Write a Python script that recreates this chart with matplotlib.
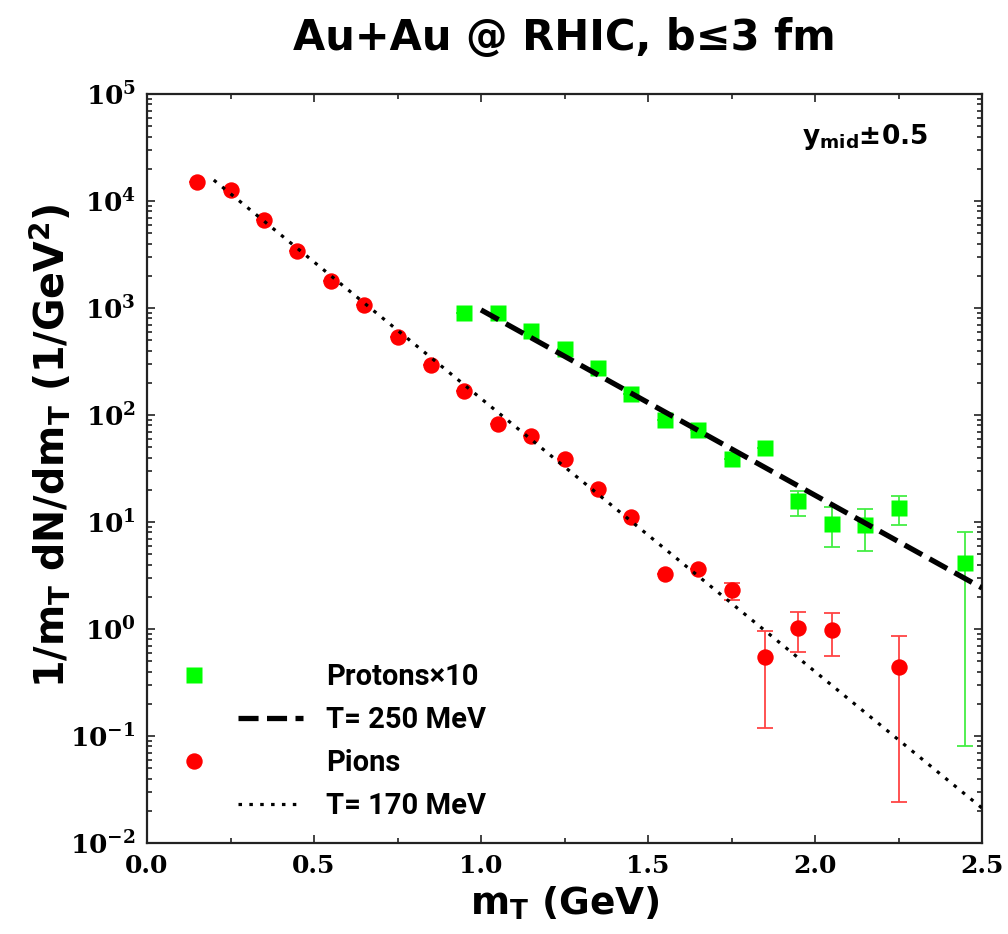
import numpy as np
import matplotlib
matplotlib.use("Agg")
import matplotlib.pyplot as plt
from matplotlib.lines import Line2D
from matplotlib.legend_handler import HandlerLine2D
from matplotlib.ticker import MultipleLocator, LogLocator, NullFormatter

# ---------------- data ----------------
pion_mt = [0.15, 0.25, 0.35, 0.45, 0.55, 0.65, 0.75, 0.85, 0.95, 1.05, 1.15,
           1.25, 1.35, 1.45, 1.55, 1.65, 1.75, 1.85, 1.95, 2.05, 2.25]
pion_val = [15060, 12680, 6640, 3410, 1790, 1070, 536, 293, 168, 82, 64,
            38.8, 20.3, 11.1, 3.27, 3.64, 2.31, 0.547, 1.02, 0.98, 0.44]
pion_lo = [15060, 12680, 6640, 3410, 1790, 1070, 536, 293, 168, 82, 64,
           38.8, 20.3, 11.1, 3.27, 3.64, 1.87, 0.119, 0.61, 0.56, 0.0242]
pion_hi = [15060, 12680, 6640, 3410, 1790, 1070, 536, 293, 168, 82, 64,
           38.8, 20.3, 11.1, 3.27, 3.64, 2.69, 0.957, 1.44, 1.41, 0.86]

prot_mt = [0.95, 1.05, 1.15, 1.25, 1.35, 1.45, 1.55, 1.65, 1.75, 1.85,
           1.95, 2.05, 2.15, 2.25, 2.45]
prot_val = [898, 898, 610, 414, 275, 157, 89.8, 72.4, 38.8, 49.2,
            15.7, 9.57, 9.37, 13.5, 4.14]
prot_lo = [898, 898, 610, 414, 275, 157, 89.8, 72.4, 38.8, 49.2,
           11.4, 5.83, 5.36, 9.37, 0.0807]
prot_hi = [898, 898, 610, 414, 275, 157, 89.8, 72.4, 38.8, 49.2,
           19.5, 13.8, 13.3, 17.5, 8.07]

# thermal fit lines (straight on log scale): end points
fit_p_mt = [1.0, 2.5]
fit_p_val = [960, 2.42]      # T = 250 MeV
fit_pi_mt = [0.2, 2.5]
fit_pi_val = [15700, 0.0212]  # T = 170 MeV

xticks = [0.0, 0.5, 1.0, 1.5, 2.0, 2.5]
xticklabels = ["0.0", "0.5", "1.0", "1.5", "2.0", "2.5"]
ytick_exps = [-2, -1, 0, 1, 2, 3, 4, 5]

# ---------------- style ----------------
plt.rcParams['mathtext.fontset'] = 'custom'
plt.rcParams['mathtext.rm'] = 'DejaVu Serif:bold'
plt.rcParams['mathtext.sf'] = 'DejaVu Sans:bold'
plt.rcParams['mathtext.bf'] = 'DejaVu Sans:bold'
plt.rcParams['mathtext.default'] = 'rm'

W, H = 1008, 934
fig = plt.figure(figsize=(W / 100, H / 100), dpi=100)
ax = fig.add_axes([147 / W, 1 - 843 / H, 835 / W, 749 / H])

GREEN = '#00ff00'
RED = '#ff0000'

pv = np.array(pion_val)
ax.errorbar(pion_mt, pion_val,
            yerr=[pv - np.array(pion_lo), np.array(pion_hi) - pv],
            fmt='none', ecolor='#ff4444', elinewidth=1.3, capsize=5.5,
            capthick=1.3, zorder=2)
qv = np.array(prot_val)
ax.errorbar(prot_mt, prot_val,
            yerr=[qv - np.array(prot_lo), np.array(prot_hi) - qv],
            fmt='none', ecolor='#44ee44', elinewidth=1.3, capsize=5.5,
            capthick=1.3, zorder=2)

ax.plot(prot_mt, prot_val, ls='none', marker='s', ms=12.2, mfc=GREEN,
        mec='none', zorder=3)
ax.plot(pion_mt, pion_val, ls='none', marker='o', ms=11.8, mfc=RED,
        mec='none', zorder=3)

ax.plot(fit_p_mt, fit_p_val, color='black', lw=3.8, dashes=(3.8, 1.6),
        zorder=4, solid_capstyle='butt', dash_capstyle='butt')
ax.plot(fit_pi_mt, fit_pi_val, color='black', lw=2.3, dashes=(1.1, 2.3),
        zorder=4, dash_capstyle='butt')

ax.set_yscale('log')
ax.set_xlim(0.0, 2.5)
ax.set_ylim(1e-2, 1e5)

ax.set_xticks(xticks, xticklabels, fontfamily='DejaVu Serif',
              fontweight='bold', fontsize=18)
ax.set_yticks([10.0 ** e for e in ytick_exps],
              [r'$\mathrm{10^{%d}}$' % e for e in ytick_exps], fontsize=19)
ax.xaxis.set_minor_locator(MultipleLocator(0.25))
ax.yaxis.set_minor_locator(LogLocator(base=10, subs=np.arange(2, 10), numticks=20))
ax.yaxis.set_minor_formatter(NullFormatter())
ax.tick_params(which='both', direction='in', top=True, right=True,
               width=1.2, color='#222222')
ax.tick_params(which='major', length=6)
ax.tick_params(which='minor', length=3.5)
ax.tick_params(axis='x', which='major', pad=8)
ax.tick_params(axis='y', which='major', pad=8)
for s in ax.spines.values():
    s.set_linewidth(1.6)
    s.set_color('#222222')

ax.set_xlabel(r'm$_\mathsf{T}$ (GeV)', fontfamily='DejaVu Sans',
              fontweight='bold', fontsize=27, labelpad=5)
ax.set_ylabel(r'1/m$_\mathsf{T}$ dN/dm$_\mathsf{T}$ (1/GeV$^\mathsf{2}$)',
              fontfamily='DejaVu Sans', fontweight='bold', fontsize=28.5)
ax.yaxis.set_label_coords(-0.088, 0.53)

ax.set_title('Au+Au @ RHIC, b≤3 fm', fontfamily='DejaVu Sans',
             fontweight='bold', fontsize=30, pad=32)

ax.text(0.935, 0.943, r'$\mathsf{y_{mid}}$±0.5', transform=ax.transAxes,
        ha='right', va='center', fontfamily='DejaVu Sans',
        fontweight='bold', fontsize=19)


# ---------------- legend ----------------
class HandlerPlaced(HandlerLine2D):
    """Place marker at left of handle box, lines at right part."""
    def __init__(self, frac, **kw):
        super().__init__(**kw)
        self.frac = frac

    def create_artists(self, legend, orig_handle, xdescent, ydescent,
                       width, height, fontsize, trans):
        arts = super().create_artists(legend, orig_handle, xdescent, ydescent,
                                      width, height, fontsize, trans)
        for a in arts:
            xd = np.asarray(a.get_xdata(), dtype=float)
            x0 = -xdescent + self.frac[0] * width
            x1 = -xdescent + self.frac[1] * width
            a.set_xdata(np.linspace(x0, x1, len(xd)))
        return arts


h_p = Line2D([], [], ls='none', marker='s', ms=12.2, mfc=GREEN, mec='none')
h_pl = Line2D([], [], color='black', lw=3.8, dashes=(3.8, 1.6))
h_pi = Line2D([], [], ls='none', marker='o', ms=11.8, mfc=RED, mec='none')
h_pil = Line2D([], [], color='black', lw=2.3, dashes=(1.1, 2.3))

leg = ax.legend([h_p, h_pl, h_pi, h_pil],
                ['Protons×10', 'T= 250 MeV', 'Pions', 'T= 170 MeV'],
                handler_map={h_p: HandlerPlaced((0.115, 0.115)),
                             h_pi: HandlerPlaced((0.115, 0.115)),
                             h_pl: HandlerPlaced((0.47, 1.0)),
                             h_pil: HandlerPlaced((0.47, 1.0))},
                loc='upper left', bbox_to_anchor=((180 - 147) / 835, 1 - (663 - 94) / 749),
                frameon=False, borderpad=0, borderaxespad=0,
                handlelength=4.2, handletextpad=0.8, labelspacing=0.52,
                prop={'family': 'Roboto', 'weight': 'bold', 'size': 21})

fig.savefig('out.png', dpi=100)
